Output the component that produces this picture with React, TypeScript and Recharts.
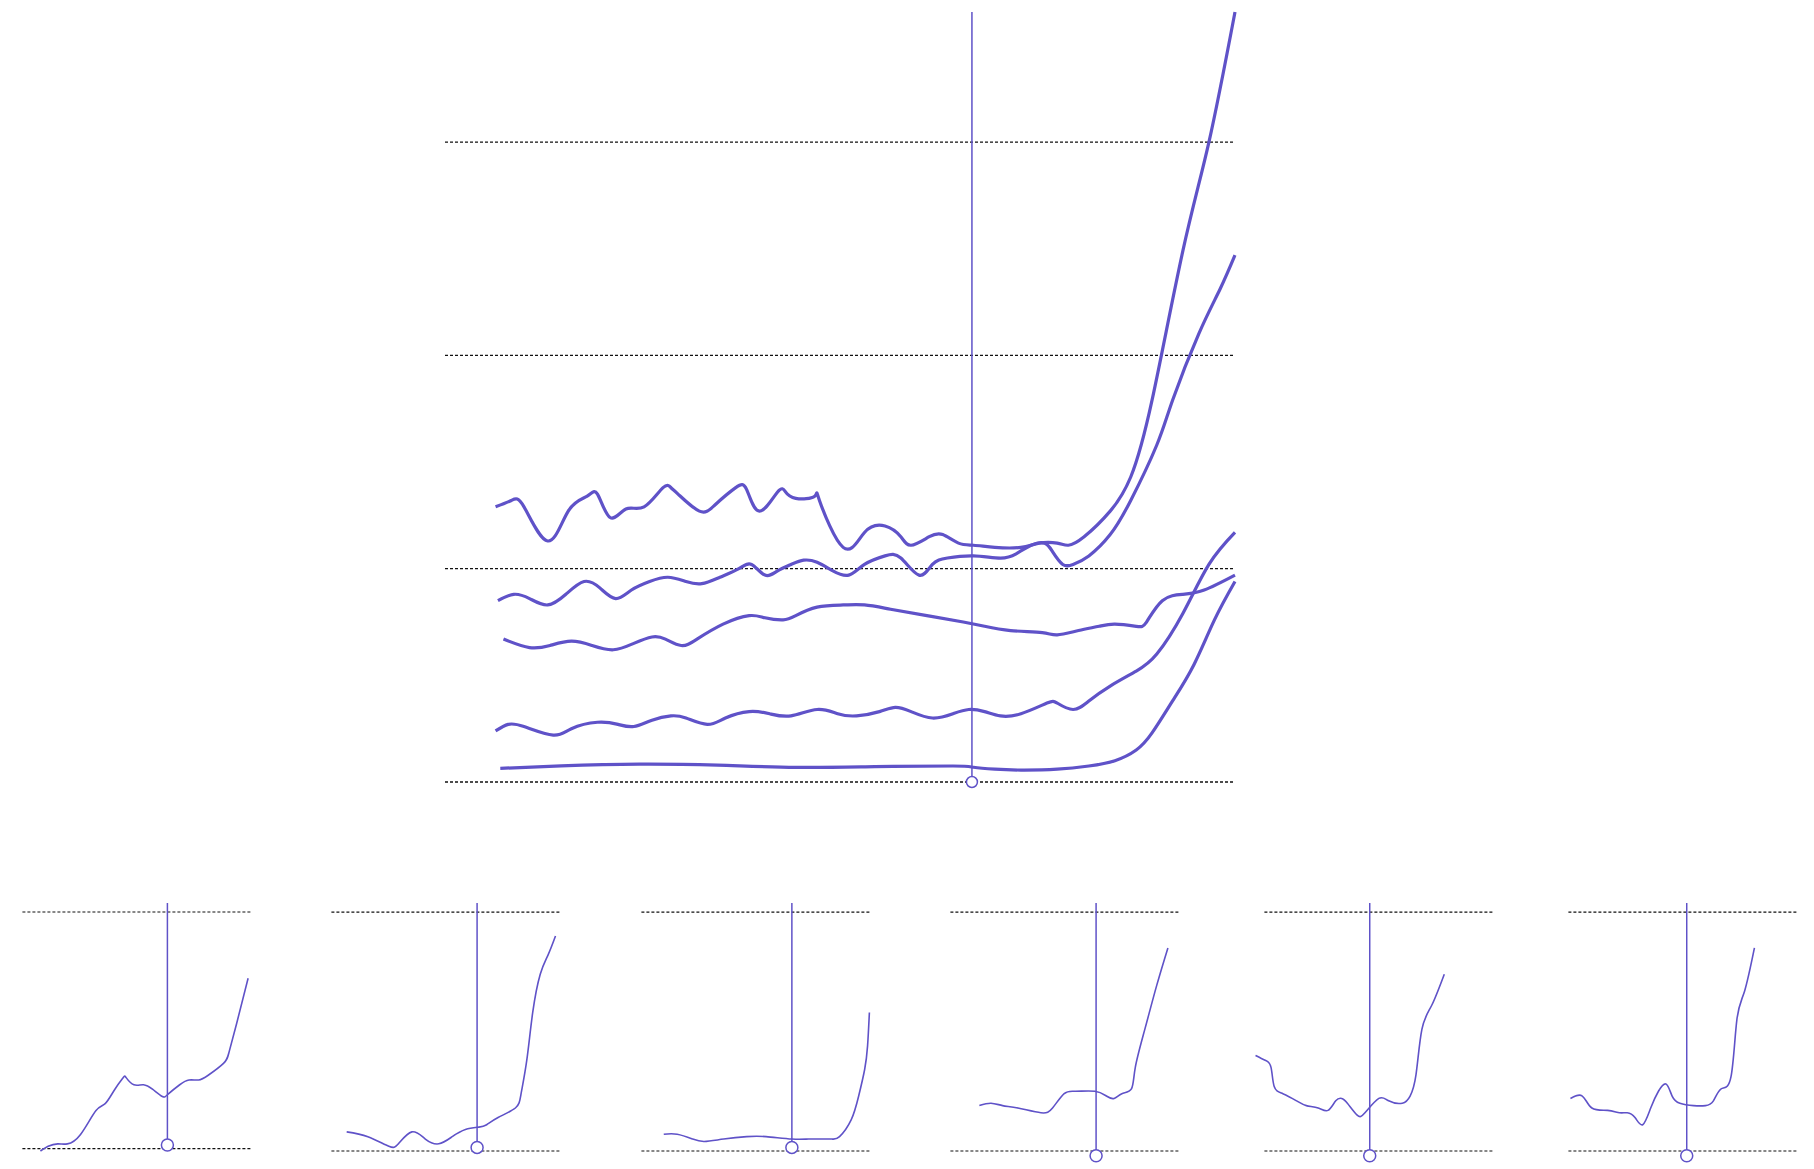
import { LineChart, Line, XAxis, YAxis, ReferenceLine, ReferenceDot } from 'recharts'

const INK = '#5f52c8'

// main chart: x runs 0..100 across the grid, y in grid steps (0..3)
const mainGridValues = [0, 1, 2, 3]
const mainMarkerX = 66.7

const seriesA = [
  [6.4, 1.29], [8.4, 1.32], [10.0, 1.29], [13.0, 1.13], [15.6, 1.27], [18.0, 1.34], [19.3, 1.35],
  [20.9, 1.24], [22.9, 1.28], [25.2, 1.29], [27.6, 1.38], [28.6, 1.38], [29.5, 1.35], [32.2, 1.27],
  [34.2, 1.30], [36.8, 1.38], [38.2, 1.37], [39.8, 1.27], [42.1, 1.36], [43.1, 1.36], [44.4, 1.33],
  [46.8, 1.34], [47.4, 1.32], [50.4, 1.10], [53.1, 1.17], [55.7, 1.20], [57.7, 1.15], [59.0, 1.11],
  [61.3, 1.15], [63.0, 1.16], [65.0, 1.12], [66.9, 1.11], [69.6, 1.10], [72.9, 1.10], [75.2, 1.12],
  [77.5, 1.12], [78.9, 1.11], [80.9, 1.15], [84.2, 1.27], [86.8, 1.43], [89.5, 1.79], [93.4, 2.49],
  [96.7, 3.0], [100, 3.61],
]

const seriesB = [
  [6.7, 0.85], [8.7, 0.88], [10.7, 0.86], [13.0, 0.83], [15.3, 0.88], [17.6, 0.94], [19.6, 0.91],
  [21.6, 0.86], [23.6, 0.90], [25.9, 0.94], [28.2, 0.96], [30.5, 0.94], [32.5, 0.93], [34.8, 0.96],
  [37.2, 1.0], [38.8, 1.02], [40.5, 0.97], [42.1, 0.99], [43.8, 1.02], [45.4, 1.04], [47.1, 1.03],
  [49.1, 0.99], [51.1, 0.97], [53.1, 1.02], [55.7, 1.06], [57.7, 1.05], [60.0, 0.97], [61.7, 1.02],
  [63.6, 1.05], [66.9, 1.06], [70.3, 1.05], [72.3, 1.07], [74.2, 1.11], [75.9, 1.12], [76.9, 1.08],
  [78.2, 1.02], [79.5, 1.02], [81.5, 1.06], [84.2, 1.16], [86.8, 1.32], [90.1, 1.58], [92.1, 1.79],
  [95.4, 2.10], [98.1, 2.31], [100, 2.47],
]

const seriesC = [
  [7.4, 0.67], [10.7, 0.63], [13.3, 0.64], [16.0, 0.66], [18.6, 0.64], [21.3, 0.62], [23.9, 0.65],
  [26.2, 0.68], [27.9, 0.67], [29.9, 0.64], [31.9, 0.67], [35.2, 0.74], [38.5, 0.78], [40.5, 0.77],
  [42.8, 0.76], [44.4, 0.78], [47.1, 0.82], [50.4, 0.83], [53.1, 0.83], [56.4, 0.81], [61.0, 0.78],
  [65.6, 0.75], [68.3, 0.73], [71.6, 0.71], [75.6, 0.70], [77.5, 0.69], [80.2, 0.71], [82.8, 0.73],
  [84.8, 0.74], [87.5, 0.73], [88.8, 0.75], [90.8, 0.85], [93.4, 0.88], [96.1, 0.90], [100, 0.97],
]

const seriesD = [
  [6.4, 0.24], [8.0, 0.27], [10.0, 0.26], [13.7, 0.22], [16.0, 0.25], [19.3, 0.28], [21.9, 0.27],
  [23.9, 0.26], [26.2, 0.29], [28.6, 0.31], [30.5, 0.30], [33.2, 0.27], [35.5, 0.30], [38.5, 0.33],
  [41.1, 0.32], [43.8, 0.31], [47.1, 0.34], [49.7, 0.32], [52.1, 0.31], [55.0, 0.33], [57.0, 0.35],
  [59.0, 0.33], [61.7, 0.30], [64.3, 0.32], [66.3, 0.34], [68.3, 0.33], [70.3, 0.31], [72.9, 0.32],
  [76.2, 0.37], [77.5, 0.37], [79.5, 0.34], [81.5, 0.38], [84.2, 0.45], [87.5, 0.52], [90.1, 0.60],
  [93.4, 0.79], [96.7, 1.02], [100, 1.17],
]

const seriesE = [
  [7.0, 0.064], [14.7, 0.076], [24.6, 0.084], [34.5, 0.079], [44.4, 0.069], [54.4, 0.072],
  [64.3, 0.075], [66.9, 0.069], [69.6, 0.06], [72.9, 0.056], [77.5, 0.06], [81.5, 0.075],
  [84.8, 0.10], [87.5, 0.15], [89.5, 0.23], [92.1, 0.38], [94.8, 0.55], [97.4, 0.76], [100, 0.94],
]

const mainSeries = [seriesA, seriesB, seriesC, seriesD, seriesE]

// small multiples: x 0..100 across the grid, y 0..1 between the two dotted lines
const small1 = [
  [7.9, -0.01], [11.3, 0.01], [15.5, 0.02], [19.7, 0.02], [25.5, 0.06], [32.2, 0.16], [36.3, 0.19],
  [40.5, 0.25], [44.2, 0.30], [45.5, 0.30], [48.9, 0.27], [53.1, 0.27], [57.2, 0.25], [61.4, 0.22],
  [63.9, 0.23], [69.0, 0.27], [73.1, 0.29], [77.3, 0.29], [81.5, 0.31], [88.2, 0.36], [90.7, 0.41],
  [94.0, 0.53], [99.0, 0.72],
]
const small2 = [
  [6.7, 0.08], [16.0, 0.06], [25.2, 0.02], [29.4, 0.03], [35.3, 0.08], [41.2, 0.05], [47.1, 0.03],
  [53.0, 0.06], [58.8, 0.09], [64.7, 0.10], [68.1, 0.11], [73.1, 0.14], [80.7, 0.18], [83.2, 0.24],
  [85.7, 0.38], [88.3, 0.58], [91.6, 0.74], [95.0, 0.82], [98.3, 0.90],
]
const small3 = [
  [9.8, 0.07], [15.7, 0.07], [22.5, 0.05], [27.6, 0.04], [36.1, 0.05], [46.2, 0.06], [54.7, 0.06],
  [66.0, 0.05], [73.3, 0.05], [78.4, 0.05], [83.5, 0.05], [86.9, 0.06], [92.0, 0.13], [95.3, 0.23],
  [97.9, 0.34], [99.2, 0.44], [100, 0.58],
]
const small4 = [
  [12.7, 0.19], [17.8, 0.20], [22.9, 0.19], [29.6, 0.18], [39.7, 0.16], [44.8, 0.18], [49.9, 0.24],
  [54.9, 0.25], [63.4, 0.25], [68.4, 0.23], [71.8, 0.22], [75.2, 0.24], [79.4, 0.26], [81.1, 0.35],
  [85.3, 0.51], [90.4, 0.69], [95.4, 0.85],
]
const small5 = [
  [-3.9, 0.40], [0.3, 0.38], [2.9, 0.35], [4.3, 0.27], [8.1, 0.24], [14.1, 0.21], [18.4, 0.19],
  [23.6, 0.18], [27.9, 0.17], [31.3, 0.21], [33.9, 0.22], [36.4, 0.20], [40.7, 0.15], [44.1, 0.16],
  [50.2, 0.22], [54.5, 0.21], [60.5, 0.20], [63.9, 0.23], [66.5, 0.32], [69.1, 0.51], [73.4, 0.61],
  [78.9, 0.74],
]
const small6 = [
  [0.9, 0.22], [6.1, 0.23], [10.3, 0.18], [17.2, 0.17], [22.4, 0.16], [25.8, 0.16], [29.2, 0.14],
  [32.6, 0.11], [36.1, 0.18], [39.5, 0.25], [42.9, 0.28], [45.5, 0.23], [48.9, 0.20], [54.9, 0.19],
  [60.1, 0.19], [63.6, 0.21], [67.0, 0.26], [71.3, 0.31], [73.9, 0.55], [77.3, 0.67], [81.6, 0.85],
]

const smallSeries = [small1, small2, small3, small4, small5, small6]
const smallMarkerX = [63.6, 63.9, 66.0, 63.9, 46.2, 51.9]
const smallMarkerY = [0.015, 0.015, 0.015, -0.02, -0.02, -0.02]
const smallLeft = [22, 331, 641, 950, 1264, 1568]

const toRows = (pts: number[][]) => pts.map(([x, y]) => ({ x, y }))

const MainChart = () => (
  <div style={{ position: 'absolute', left: 425, top: 0 }}>
    <LineChart width={830} height={800} margin={{ top: 12, right: 20, bottom: 18, left: 20 }}>
      <XAxis type="number" dataKey="x" domain={[0, 100]} hide />
      <YAxis type="number" dataKey="y" domain={[0, 3.6]} hide />
      {mainGridValues.map((v) => (
        <ReferenceLine key={v} y={v} stroke="#111" strokeWidth={1.3} strokeDasharray="3 2" />
      ))}
      <ReferenceLine x={mainMarkerX} stroke={INK} strokeWidth={1.5} />
      {mainSeries.map((s, i) => (
        <Line
          key={i}
          data={toRows(s)}
          dataKey="y"
          type="natural"
          stroke={INK}
          strokeWidth={3.2}
          dot={false}
          isAnimationActive={false}
        />
      ))}
      <ReferenceDot x={mainMarkerX} y={0} r={5.5} fill="#fff" stroke={INK} strokeWidth={1.5} ifOverflow="visible" />
    </LineChart>
  </div>
)

const SmallChart = ({ idx }: { idx: number }) => (
  <div style={{ position: 'absolute', left: smallLeft[idx] - 11.4 - 10, top: 893 }}>
    <LineChart width={259.4} height={274} margin={{ top: 10, right: 10, bottom: 16, left: 10 }}>
      <XAxis type="number" dataKey="x" domain={[-5, 100]} hide />
      <YAxis type="number" dataKey="y" domain={[0, 1.038]} hide />
      {[0, 1].map((v) => (
        <ReferenceLine
          key={v}
          segment={[{ x: 0, y: v }, { x: 100, y: v }]}
          stroke="#111"
          strokeWidth={1.2}
          strokeDasharray="3 2"
        />
      ))}
      <ReferenceLine x={smallMarkerX[idx]} stroke={INK} strokeWidth={1.5} />
      <Line
        data={toRows(smallSeries[idx])}
        dataKey="y"
        type="natural"
        stroke={INK}
        strokeWidth={1.6}
        dot={false}
        isAnimationActive={false}
      />
      <ReferenceDot
        x={smallMarkerX[idx]}
        y={smallMarkerY[idx]}
        r={6}
        fill="#fff"
        stroke={INK}
        strokeWidth={1.5}
        ifOverflow="visible"
      />
    </LineChart>
  </div>
)

export default function App() {
  return (
    <div style={{ position: 'absolute', left: 0, top: 0, width: 1814, height: 1169, background: '#fff' }}>
      <MainChart />
      {smallSeries.map((_, i) => (
        <SmallChart key={i} idx={i} />
      ))}
    </div>
  )
}
